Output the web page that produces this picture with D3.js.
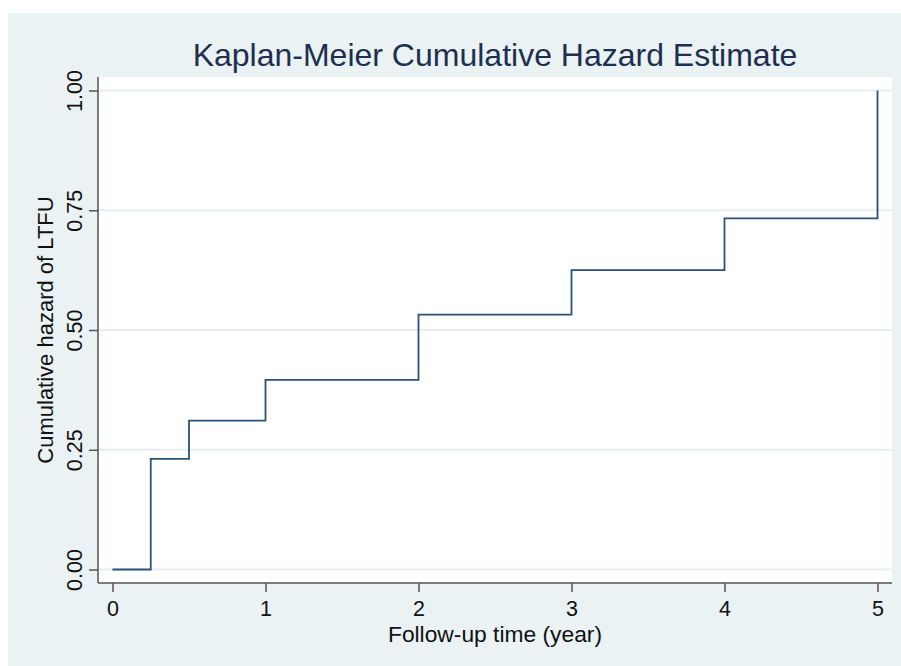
<!DOCTYPE html>
<html>
<head>
<meta charset="utf-8">
<script src="https://cdn.jsdelivr.net/npm/d3@7"></script>
<style>
  body { margin: 0; background: #fff; }
  text { font-family: "Liberation Sans", Arial, sans-serif; }
</style>
</head>
<body>
<div id="chart"></div>
<script>
// follow-up time (years) at each event, and cumulative hazard after it
var times = [0, 0.25, 0.5, 1, 2, 3, 4, 5];
var hazard = [0, 0.231, 0.311, 0.396, 0.532, 0.625, 0.733, 1.0];
var xTicks = [0, 1, 2, 3, 4, 5];
var yTicks = [0, 0.25, 0.5, 0.75, 1];

var W = 901, H = 666;
var plot = { left: 98, right: 892, top: 77, bottom: 583 };

var svg = d3.select("#chart")
  .append("svg")
  .attr("width", W)
  .attr("height", H);

// graph region
svg.append("rect")
  .attr("x", 8).attr("y", 13)
  .attr("width", W - 8).attr("height", H - 13)
  .attr("fill", "#eaf2f3");

// plot region
svg.append("rect")
  .attr("x", plot.left).attr("y", plot.top)
  .attr("width", plot.right - plot.left)
  .attr("height", plot.bottom - plot.top)
  .attr("fill", "#ffffff");

var x = d3.scaleLinear().domain([0, 5]).range([112.5, 877.5]);
var y = d3.scaleLinear().domain([0, 1]).range([569.5, 90.5]);

// gridlines
svg.append("g")
  .selectAll("line")
  .data(yTicks)
  .enter().append("line")
  .attr("x1", plot.left).attr("x2", plot.right)
  .attr("y1", function(d){ return y(d); })
  .attr("y2", function(d){ return y(d); })
  .attr("stroke", "#e6eff1")
  .attr("stroke-width", 1.8);

// step line
var pts = times.map(function(t, i){ return [t, hazard[i]]; });
var line = d3.line()
  .x(function(d){ return x(d[0]); })
  .y(function(d){ return y(d[1]); })
  .curve(d3.curveStepAfter);

svg.append("path")
  .datum(pts)
  .attr("d", line)
  .attr("fill", "none")
  .attr("stroke", "#2b5279")
  .attr("stroke-width", 1.8);

var axisColor = "#555555";

// x axis
var gx = svg.append("g")
  .attr("transform", "translate(0," + plot.bottom + ")")
  .call(d3.axisBottom(x).tickValues(xTicks).tickSize(9).tickSizeOuter(0).tickPadding(9).tickFormat(d3.format("d")));
gx.select(".domain").remove();
gx.selectAll(".tick line").attr("stroke", axisColor).attr("stroke-width", 1.5);
gx.selectAll(".tick text")
  .attr("fill", "#111")
  .style("font-size", "21.5px")
  .style("font-family", '"Liberation Sans", Arial, sans-serif');

// y axis
var gy = svg.append("g")
  .attr("transform", "translate(" + plot.left + ",0)")
  .call(d3.axisLeft(y).tickValues(yTicks).tickSize(9).tickSizeOuter(0).tickFormat(d3.format(".2f")));
gy.select(".domain").remove();
gy.selectAll(".tick line").attr("stroke", axisColor).attr("stroke-width", 1.5);
gy.selectAll(".tick text")
  .attr("transform", "rotate(-90)")
  .attr("x", 0)
  .attr("y", -16)
  .attr("dy", 0)
  .attr("text-anchor", "middle")
  .attr("fill", "#111")
  .style("font-size", "21.5px")
  .style("font-family", '"Liberation Sans", Arial, sans-serif');

// axis lines along the plot region
svg.append("line")
  .attr("x1", plot.left).attr("x2", plot.left)
  .attr("y1", plot.top).attr("y2", plot.bottom)
  .attr("stroke", axisColor).attr("stroke-width", 1.5);
svg.append("line")
  .attr("x1", plot.left).attr("x2", plot.right)
  .attr("y1", plot.bottom).attr("y2", plot.bottom)
  .attr("stroke", axisColor).attr("stroke-width", 1.5);

// titles
svg.append("text")
  .attr("x", (plot.left + plot.right) / 2)
  .attr("y", 66)
  .attr("text-anchor", "middle")
  .attr("fill", "#1e2f4f")
  .style("font-size", "32px")
  .text("Kaplan-Meier Cumulative Hazard Estimate");

svg.append("text")
  .attr("x", (x(0) + x(5)) / 2)
  .attr("y", 642)
  .attr("text-anchor", "middle")
  .attr("fill", "#111")
  .style("font-size", "22.8px")
  .text("Follow-up time (year)");

svg.append("text")
  .attr("transform", "translate(53," + (y(0) + y(1)) / 2 + ") rotate(-90)")
  .attr("text-anchor", "middle")
  .attr("fill", "#111")
  .style("font-size", "22px")
  .text("Cumulative hazard of LTFU");
</script>
</body>
</html>
